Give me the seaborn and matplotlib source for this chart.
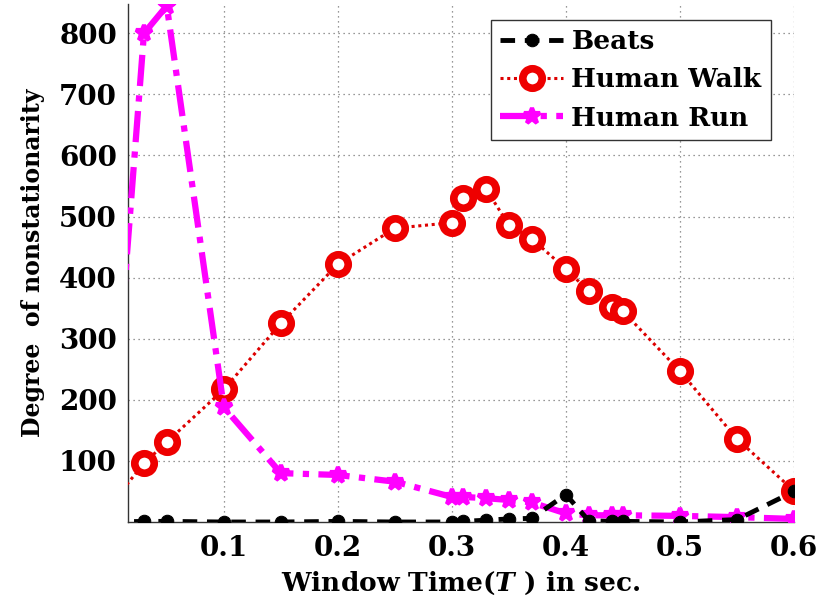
import matplotlib
matplotlib.use("Agg")
import matplotlib.pyplot as plt
import seaborn as sns
import pandas as pd

window_time = [0.0, 0.03, 0.05, 0.10, 0.15, 0.20, 0.25, 0.30, 0.31, 0.33, 0.35,
               0.37, 0.40, 0.42, 0.44, 0.45, 0.50, 0.55, 0.60]
beats = [0, 1, 1, 0, 0, 1, 0, 0, 1, 3, 5, 6, 45, 2, 1, 1, 0, 4, 50]
human_walk = [27, 96, 131, 217, 325, 422, 481, 490, 530, 545, 486, 464, 414,
              378, 352, 345, 247, 136, 51]
human_run = [71, 800, 845, 188, 80, 77, 66, 41, 41, 39, 36, 32, 14, 11, 11, 11,
             10, 8, 5]

x_ticks = [0.1, 0.2, 0.3, 0.4, 0.5, 0.6]
y_ticks = [100, 200, 300, 400, 500, 600, 700, 800]

sns.set_style("white")
plt.rcParams['font.family'] = ['DejaVu Serif']
plt.rcParams['font.weight'] = 'bold'
plt.rcParams['text.color'] = 'black'
plt.rcParams['axes.labelcolor'] = 'black'
plt.rcParams['xtick.color'] = 'black'
plt.rcParams['ytick.color'] = 'black'
plt.rcParams['mathtext.fontset'] = 'dejavuserif'
plt.rcParams['mathtext.it'] = 'DejaVu Serif:italic:bold'

df = pd.DataFrame({"t": window_time, "Beats": beats,
                   "Human Walk": human_walk, "Human Run": human_run})

fig = plt.figure(figsize=(8.26, 6.09), dpi=100)
ax = fig.add_axes([128 / 826, 1 - 522 / 609, 666 / 826, 518 / 609])

sns.lineplot(data=df, x="t", y="Human Walk", ax=ax, color="#dd0000",
             linestyle=(0, (1, 1.2)), linewidth=2.2, marker="o", markersize=14,
             markerfacecolor="white", markeredgecolor="#ee0000",
             markeredgewidth=5.5, label="Human Walk", zorder=3)
sns.lineplot(data=df, x="t", y="Human Run", ax=ax, color="#ff00ff",
             linestyle=(0, (5, 1.5, 1, 1.5)), linewidth=4.5, marker="*",
             markersize=12, markerfacecolor="#ff00ff", markeredgecolor="#ff00ff",
             markeredgewidth=3, label="Human Run", zorder=4)
sns.lineplot(data=df, x="t", y="Beats", ax=ax, color="black",
             linestyle=(0, (3, 2)), linewidth=3.5, marker="o", markersize=9,
             markerfacecolor="black", markeredgecolor="black",
             label="Beats", zorder=5)

ax.set_xlim(0.016, 0.6)
ax.set_ylim(0, 848)
ax.set_xticks(x_ticks)
ax.set_xticklabels([f"{v:.1f}" for v in x_ticks])
ax.set_yticks(y_ticks)
ax.set_yticklabels([str(v) for v in y_ticks])
ax.tick_params(axis="both", labelsize=20, length=0, labelcolor="black")
ax.tick_params(axis="x", pad=9)
ax.tick_params(axis="y", pad=8)
for lbl in ax.get_xticklabels() + ax.get_yticklabels():
    lbl.set_fontweight("bold")
ax.grid(True, color="#777777", linestyle=(0, (1, 3)), linewidth=0.9)

for s in ["top", "right"]:
    ax.spines[s].set_visible(False)
for s in ["left", "bottom"]:
    ax.spines[s].set_color("#333333")
    ax.spines[s].set_linewidth(1.0)

ax.set_xlabel(r"Window Time($T$ ) in sec.", fontsize=19, fontweight="bold",
              labelpad=6, color="black")
ax.set_ylabel("Degree  of nonstationarity", fontsize=17, fontweight="bold",
              labelpad=10, color="black")

handles, labels = ax.get_legend_handles_labels()
order = [labels.index("Beats"), labels.index("Human Walk"), labels.index("Human Run")]
leg = ax.legend([handles[i] for i in order], [labels[i] for i in order],
                loc="upper right", bbox_to_anchor=(0.965, 0.969),
                borderaxespad=0.0,
                prop={"size": 19, "weight": "bold"},
                frameon=True, fancybox=False, edgecolor="#333333",
                handlelength=2.4, handletextpad=0.3, borderpad=0.35,
                labelspacing=0.5, framealpha=1)
leg.get_frame().set_linewidth(1.0)

fig.savefig("out.png", dpi=100)
